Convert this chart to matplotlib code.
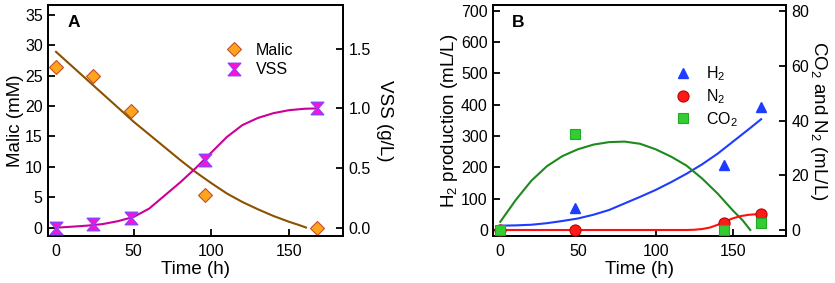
"""Malic acid / VSS and gas production over time (panels A and B)."""

import matplotlib

matplotlib.use("Agg")
import matplotlib.pyplot as plt
from matplotlib.lines import Line2D
from matplotlib.path import Path

plt.rcParams["font.family"] = ["Liberation Sans", "DejaVu Sans"]
plt.rcParams["mathtext.fontset"] = "custom"
plt.rcParams["mathtext.rm"] = "Liberation Sans"
plt.rcParams["mathtext.default"] = "regular"

# ---------------- Panel A data ----------------
malic_t = [0, 24, 48, 96, 168]
malic_mM = [26.4, 24.9, 19.2, 5.3, 0.0]
vss_t = [0, 24, 48, 96, 168]
vss_gL = [0.0, 0.03, 0.085, 0.57, 1.0]
vss_err = [0.02, 0.02, 0.02, 0.03, 0.02]

# fitted curves
malic_fit_t = [0, 10, 20, 30, 40, 50, 60, 70, 80, 90, 100, 110, 120, 130, 140, 150, 156, 161]
malic_fit = [28.9, 26.6, 24.3, 22.0, 19.7, 17.4, 15.3, 13.2, 11.1, 9.1, 7.3, 5.6,
             4.2, 3.0, 1.9, 0.95, 0.45, 0.0]
vss_fit_t = [0, 10, 20, 30, 40, 50, 60, 70, 80, 90, 100, 110, 120, 130, 140, 150, 160, 168]
vss_fit = [0.0, 0.008, 0.017, 0.03, 0.055, 0.09, 0.16, 0.27, 0.38, 0.50, 0.63, 0.76,
           0.86, 0.92, 0.96, 0.985, 0.997, 1.0]

# ---------------- Panel B data ----------------
h2_t = [0, 48, 144, 168]
h2_mLL = [0, 69, 208, 392]
n2_t = [0, 48, 144, 168]
n2_mLL = [0.0, 0.0, 2.7, 5.9]
co2_t = [0, 48, 144, 168]
co2_mLL = [0.0, 35.0, 0.0, 2.5]

h2_fit_t = [0, 10, 20, 30, 40, 50, 60, 70, 80, 90, 100, 110, 120, 130, 140, 150, 160, 168]
h2_fit = [14, 15, 17, 22, 29, 37, 49, 64, 85, 106, 128, 153, 180, 210, 244, 283, 322, 354]
n2_fit_t = [0, 50, 100, 120, 125, 130, 135, 140, 143, 146, 150, 155, 160, 168]
n2_fit = [0.0, 0.0, 0.0, 0.0, 0.1, 0.35, 0.9, 1.9, 2.6, 3.4, 4.3, 5.1, 5.55, 5.9]
co2_fit_t = [0, 10, 20, 30, 40, 50, 60, 70, 80, 90, 100, 110, 120, 130, 140, 150, 156, 161]
co2_fit = [3.0, 11.0, 18.0, 23.3, 27.0, 29.5, 31.2, 32.1, 32.3, 31.5, 29.5, 26.8,
           23.5, 18.8, 13.3, 7.0, 3.6, 0.0]

hourglass = Path(
    [(-1, 1), (1, 1), (0.12, 0), (1, -1), (-1, -1), (-0.12, 0), (-1, 1)],
    [Path.MOVETO] + [Path.LINETO] * 5 + [Path.CLOSEPOLY],
)

TICK_FS = 11.5
LABEL_FS = 13.5


def style_axis(axis):
    axis.tick_params(direction="in", length=5, width=1.3, labelsize=TICK_FS, pad=4)
    axis.tick_params(axis="x", pad=6)
    for spine in axis.spines.values():
        spine.set_linewidth(1.3)


fig = plt.figure(figsize=(8.35, 2.83), dpi=100)

# ---------------- Panel A ----------------
ax_a = fig.add_axes([0.0578, 0.166, 0.3533, 0.8163])
ax_a2 = ax_a.twinx()

ax_a.plot(malic_fit_t, malic_fit, color="#8a5200", lw=1.5, zorder=2)
ax_a.plot(malic_t, malic_mM, ls="none", marker="D", ms=7.5, mfc="#ffa41c",
          mec="#c0502a", mew=0.8, zorder=3)
ax_a2.plot(vss_fit_t, vss_fit, color="#cc0099", lw=1.5, zorder=2)
ax_a2.errorbar(vss_t, vss_gL, yerr=vss_err, ls="none", ecolor="#7a3cff",
               elinewidth=1, capsize=0, zorder=3)
ax_a2.plot(vss_t, vss_gL, ls="none", marker=hourglass, ms=9, mfc="#ff10d0",
           mec="#8a40ff", mew=1.0, zorder=4)

ax_a.set_xlim(-5, 185)
ax_a.set_ylim(-1.4, 36.6)
ax_a2.set_ylim(-0.07, 1.867)
ax_a.set_xticks([0, 50, 100, 150])
ax_a.set_yticks(range(0, 36, 5))
ax_a2.set_yticks([0.0, 0.5, 1.0, 1.5])
ax_a2.set_yticklabels(["0.0", "0.5", "1.0", "1.5"])
ax_a.set_xlabel("Time (h)", fontsize=LABEL_FS, labelpad=1)
ax_a.set_ylabel("Malic (mM)", fontsize=LABEL_FS, labelpad=1)
ax_a2.set_ylabel("VSS (g/L)", fontsize=LABEL_FS, rotation=270, labelpad=16)
style_axis(ax_a)
style_axis(ax_a2)
ax_a.text(0.067, 0.957, "A", transform=ax_a.transAxes, fontsize=12.5,
          fontweight="bold", ha="left", va="top")

handles_a = [
    Line2D([], [], ls="none", marker="D", ms=7.5, mfc="#ffa41c", mec="#c0502a", mew=0.8),
    Line2D([], [], ls="none", marker=hourglass, ms=9, mfc="#ff10d0", mec="#8a40ff", mew=1.0),
]
ax_a2.legend(handles_a, ["Malic", "VSS"], frameon=False, fontsize=11.5,
             loc="upper left", bbox_to_anchor=(0.58, 0.865), handlelength=1.0,
             handletextpad=0.9, labelspacing=0.3, borderaxespad=0)

# ---------------- Panel B ----------------
ax_b = fig.add_axes([0.5908, 0.166, 0.3505, 0.8163])
ax_b2 = ax_b.twinx()

ax_b.plot(h2_fit_t, h2_fit, color="#1e3cff", lw=1.5, zorder=2)
ax_b2.plot(co2_fit_t, co2_fit, color="#1d8a1d", lw=1.5, zorder=2)
ax_b2.plot(n2_fit_t, n2_fit, color="#ff1010", lw=1.5, zorder=2)
ax_b.plot(h2_t, h2_mLL, ls="none", marker="^", ms=7, mfc="#1e3cff",
          mec="#1e3cff", zorder=3)
ax_b2.plot(n2_t, n2_mLL, ls="none", marker="o", ms=8, mfc="#ff1a1a",
           mec="#c00000", mew=0.8, zorder=3)
ax_b2.plot(co2_t, co2_mLL, ls="none", marker="s", ms=7, mfc="#33cc33",
           mec="#22aa22", mew=0.8, zorder=4)

ax_b.set_xlim(-4.5, 184)
ax_b.set_ylim(-19, 718.6)
ax_b2.set_ylim(-2.2, 82.2)
ax_b.set_xticks([0, 50, 100, 150])
ax_b.set_yticks(range(0, 701, 100))
ax_b2.set_yticks([0, 20, 40, 60, 80])
ax_b.set_xlabel("Time (h)", fontsize=LABEL_FS, labelpad=1)
ax_b.set_ylabel("H$_2$ production (mL/L)", fontsize=LABEL_FS, labelpad=1)
ax_b2.set_ylabel("CO$_2$ and N$_2$ (mL/L)", fontsize=LABEL_FS, rotation=270,
                 labelpad=14)
style_axis(ax_b)
style_axis(ax_b2)
ax_b.text(0.064, 0.957, "B", transform=ax_b.transAxes, fontsize=12.5,
          fontweight="bold", ha="left", va="top")

handles_b = [
    Line2D([], [], ls="none", marker="^", ms=7, mfc="#1e3cff", mec="#1e3cff"),
    Line2D([], [], ls="none", marker="o", ms=8, mfc="#ff1a1a", mec="#c00000", mew=0.8),
    Line2D([], [], ls="none", marker="s", ms=7, mfc="#33cc33", mec="#22aa22", mew=0.8),
]
ax_b2.legend(handles_b, ["H$_2$", "N$_2$", "CO$_2$"], frameon=False, fontsize=11.5,
             loc="upper left", bbox_to_anchor=(0.6, 0.77), handlelength=1.0,
             handletextpad=0.9, labelspacing=0.25, borderaxespad=0)

fig.savefig("out.png", dpi=100)
plt.close(fig)
